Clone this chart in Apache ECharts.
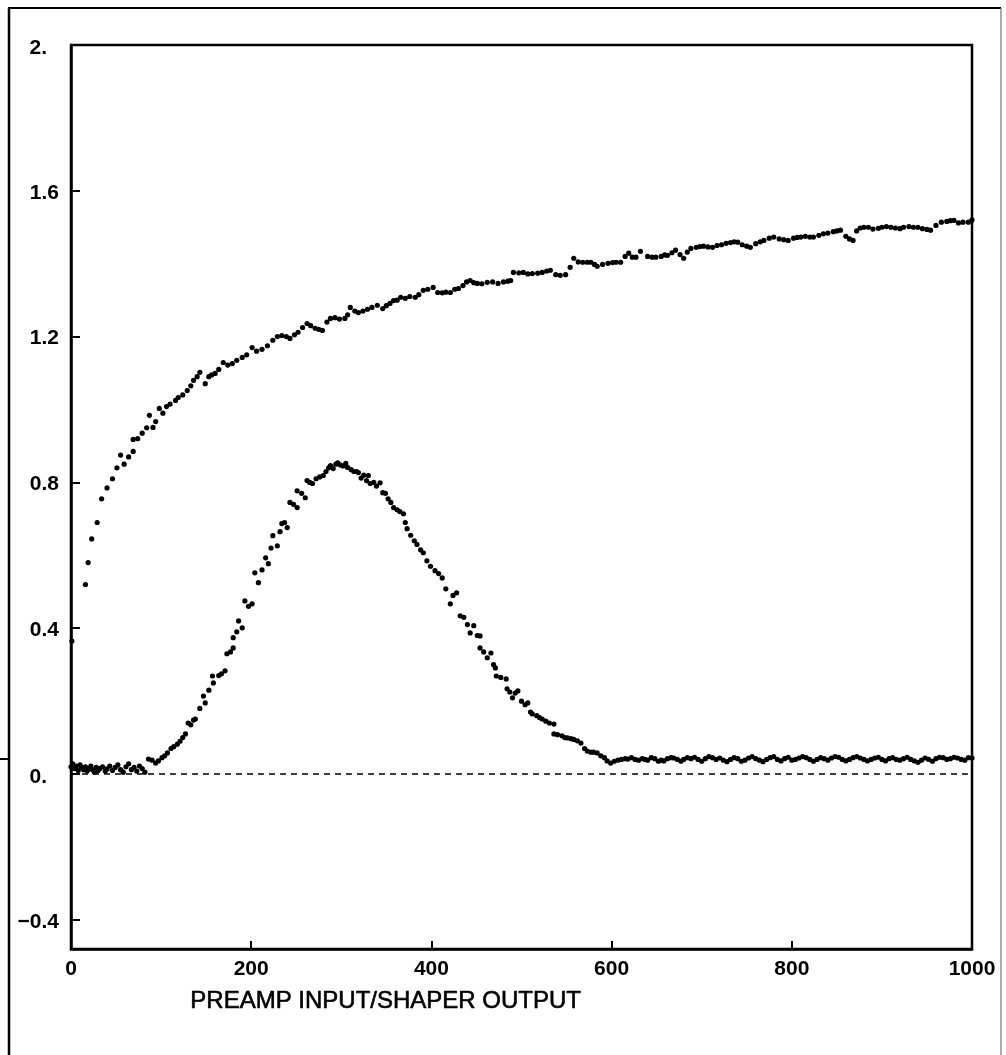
<!DOCTYPE html>
<html>
<head>
<meta charset="utf-8">
<script src="https://cdn.jsdelivr.net/npm/echarts@6/dist/echarts.min.js"></script>
<style>
html,body{margin:0;padding:0;background:#fff;}
#chart{width:1006px;height:1055px;}
</style>
</head>
<body>
<div id="chart"></div>
<script>
// ---- data ----
var xTickLabels = ['0', '200', '400', '600', '800', '1000'];
var yTickValues = [-0.4, 0, 0.4, 0.8, 1.2, 1.6, 2.0];
var yTickLabels = ['\u22120.4', '0.', '0.4', '0.8', '1.2', '1.6', '2.'];
var axisTitle = 'PREAMP INPUT/SHAPER OUTPUT';

// preamp input (rising curve)
var preampPoints = [
[1,0.365],[16,0.52],[19,0.58],[23,0.645],[29,0.69],[34,0.755],[40,0.785],[46,0.81],[51,0.84],[55,0.875],[59,0.85],[64,0.87],[69,0.885],[69,0.918],[74,0.92],[79,0.935],[84,0.95],[87,0.984],[91,0.951],[94,0.967],[98,1.003],[102,0.99],[106,1.008],[110,1.015],[116,1.025],[119,1.033],[124,1.04],[129,1.052],[133,1.065],[136,1.08],[140,1.09],[143,1.102],[149,1.071],[153,1.09],[156,1.095],[160,1.099],[164,1.11],[169,1.129],[174,1.122],[179,1.126],[184,1.135],[190,1.143],[195,1.15],[201,1.17],[206,1.16],[212,1.165],[218,1.175],[224,1.19],[229,1.2],[234,1.203],[239,1.2],[243,1.195],[248,1.205],[252,1.212],[257,1.225],[262,1.236],[266,1.23],[271,1.223],[275,1.22],[279,1.217],[284,1.24],[288,1.25],[293,1.252],[298,1.248],[304,1.25],[307,1.26],[310,1.28],[315,1.27],[319,1.266],[324,1.27],[329,1.275],[334,1.28],[340,1.286],[346,1.277],[350,1.285],[354,1.291],[358,1.299],[362,1.3],[366,1.308],[371,1.305],[376,1.31],[382,1.308],[386,1.315],[391,1.327],[396,1.33],[402,1.335],[407,1.321],[412,1.32],[416,1.322],[421,1.321],[426,1.33],[430,1.332],[435,1.34],[439,1.35],[443,1.354],[447,1.348],[451,1.346],[456,1.345],[462,1.349],[468,1.35],[474,1.346],[480,1.35],[485,1.352],[488,1.354],[491,1.376],[497,1.375],[502,1.376],[507,1.372],[512,1.373],[518,1.374],[523,1.376],[528,1.38],[532,1.382],[538,1.37],[543,1.368],[549,1.37],[554,1.39],[558,1.415],[563,1.405],[568,1.404],[573,1.404],[577,1.404],[581,1.398],[584,1.393],[590,1.398],[596,1.401],[601,1.403],[605,1.404],[610,1.404],[615,1.42],[619,1.429],[623,1.418],[627,1.418],[632,1.434],[640,1.42],[645,1.418],[649,1.418],[655,1.42],[659,1.424],[662,1.423],[667,1.43],[671,1.437],[676,1.425],[680,1.415],[684,1.432],[688,1.442],[694,1.445],[698,1.447],[702,1.448],[707,1.446],[712,1.445],[717,1.45],[722,1.452],[727,1.456],[732,1.458],[736,1.46],[740,1.459],[745,1.452],[750,1.448],[754,1.445],[760,1.455],[765,1.46],[769,1.464],[775,1.47],[780,1.473],[786,1.468],[791,1.466],[796,1.464],[802,1.47],[806,1.472],[810,1.473],[815,1.475],[820,1.473],[824,1.473],[830,1.478],[835,1.482],[840,1.484],[846,1.488],[850,1.49],[854,1.492],[860,1.475],[864,1.468],[868,1.464],[872,1.49],[876,1.498],[880,1.5],[885,1.5],[890,1.495],[896,1.497],[900,1.5],[905,1.502],[910,1.5],[915,1.498],[920,1.496],[924,1.5],[930,1.502],[935,1.5],[940,1.5],[945,1.496],[950,1.494],[954,1.492],[960,1.505],[966,1.514],[972,1.516],[976,1.518],[980,1.519],[985,1.512],[990,1.514],[996,1.514],[1000,1.52]
];

// shaper output (bell curve)
var shaperPoints = [
[0,0.02],[2,0.028],[4,0.015],[6,0.022],[8,0.01],[10,0.025],[12,0.018],[14,0.012],[16,0.02],[18,0.008],[20,0.015],[22,0.022],[24,0.012],[26,0.005],[28,0.018],[30,0.01],[32,0.015],[35,0.02],[38,0.008],[40,0.014],[43,0.022],[46,0.01],[49,0.018],[52,0.025],[55,0.012],[58,0.005],[61,0.02],[64,0.028],[67,0.012],[70,0.018],[73,0.008],[76,0.022],[79,0.015],[82,0.005],[86,0.041],[90,0.038],[94,0.03],[97,0.036],[101,0.045],[104,0.05],[107,0.058],[111,0.07],[114,0.075],[118,0.082],[121,0.09],[124,0.1],[127,0.11],[130,0.14],[133,0.135],[136,0.148],[138,0.151],[143,0.18],[147,0.214],[149,0.195],[153,0.23],[157,0.269],[158,0.25],[164,0.27],[167,0.275],[171,0.283],[173,0.33],[177,0.335],[180,0.346],[180,0.374],[184,0.39],[186,0.42],[190,0.401],[193,0.475],[197,0.46],[201,0.467],[204,0.552],[208,0.525],[212,0.56],[216,0.593],[219,0.577],[222,0.62],[224,0.654],[229,0.626],[232,0.665],[234,0.687],[237,0.69],[240,0.676],[243,0.745],[247,0.74],[251,0.731],[251,0.777],[256,0.77],[260,0.758],[262,0.805],[265,0.8],[268,0.797],[272,0.81],[276,0.815],[280,0.819],[283,0.83],[286,0.84],[288,0.846],[291,0.838],[294,0.85],[296,0.854],[299,0.848],[302,0.845],[305,0.852],[307,0.841],[311,0.835],[314,0.83],[317,0.83],[319,0.827],[322,0.812],[325,0.82],[328,0.805],[330,0.819],[332,0.797],[336,0.8],[339,0.79],[343,0.799],[346,0.772],[349,0.77],[352,0.755],[355,0.745],[358,0.731],[362,0.725],[365,0.72],[369,0.714],[371,0.69],[373,0.673],[377,0.655],[381,0.64],[384,0.63],[388,0.615],[391,0.607],[395,0.585],[399,0.57],[404,0.558],[408,0.55],[412,0.538],[416,0.508],[421,0.467],[424,0.49],[428,0.497],[432,0.434],[436,0.43],[440,0.41],[443,0.387],[447,0.407],[451,0.38],[454,0.379],[454,0.346],[458,0.335],[462,0.319],[466,0.332],[469,0.3],[471,0.291],[472,0.269],[477,0.265],[483,0.261],[484,0.234],[487,0.225],[490,0.209],[493,0.222],[496,0.228],[500,0.2],[504,0.19],[507,0.195],[510,0.17],[512,0.165],[517,0.16],[520,0.155],[523,0.151],[527,0.145],[531,0.14],[536,0.137],[536,0.11],[540,0.108],[545,0.105],[548,0.1],[551,0.099],[555,0.097],[558,0.095],[562,0.091],[566,0.085],[570,0.07],[573,0.063],[577,0.06],[580,0.06],[584,0.058],[588,0.05],[592,0.045],[595,0.036],[599,0.03],[603,0.035],[607,0.038],[611,0.04],[615,0.042],[618,0.041],[622,0.045],[626,0.04],[630,0.038],[634,0.042],[637,0.04],[640,0.038],[644,0.045],[648,0.042],[652,0.035],[655,0.038],[658,0.036],[662,0.042],[666,0.045],[669,0.044],[673,0.04],[677,0.035],[680,0.04],[684,0.045],[688,0.042],[692,0.046],[696,0.04],[700,0.035],[704,0.042],[708,0.048],[712,0.045],[716,0.04],[720,0.044],[724,0.038],[728,0.034],[732,0.04],[736,0.045],[740,0.042],[744,0.035],[748,0.038],[752,0.044],[756,0.048],[760,0.042],[764,0.038],[768,0.034],[772,0.04],[776,0.045],[780,0.048],[784,0.04],[788,0.036],[792,0.042],[796,0.046],[800,0.038],[804,0.04],[808,0.044],[812,0.048],[816,0.045],[820,0.04],[824,0.035],[828,0.04],[832,0.045],[836,0.042],[840,0.038],[844,0.044],[848,0.048],[852,0.046],[856,0.04],[860,0.036],[864,0.04],[868,0.045],[872,0.048],[876,0.044],[880,0.04],[884,0.036],[888,0.04],[892,0.044],[896,0.046],[900,0.04],[904,0.036],[908,0.042],[912,0.045],[916,0.04],[920,0.038],[924,0.042],[928,0.046],[932,0.04],[936,0.036],[940,0.032],[944,0.038],[948,0.044],[952,0.04],[956,0.035],[960,0.042],[964,0.046],[968,0.045],[972,0.04],[976,0.042],[980,0.046],[984,0.044],[988,0.04],[992,0.038],[996,0.045],[1000,0.044]
];

var chart = echarts.init(document.getElementById('chart'), null, {renderer: 'canvas'});
var FONT = '"Liberation Sans", Arial, Helvetica, sans-serif';

chart.setOption({
  animation: false,
  backgroundColor: '#fff',
  grid: {
    left: 71, right: 34, top: 45, bottom: 106,
    show: true, borderColor: '#000', borderWidth: 2.5, backgroundColor: 'transparent'
  },
  xAxis: {
    type: 'value', min: 0, max: 1000, interval: 200,
    axisLine: {show: true, onZero: false, lineStyle: {color: '#000', width: 2.5}},
    axisTick: {show: true, inside: true, length: 8, lineStyle: {color: '#000', width: 2}},
    axisLabel: {
      show: true, margin: 10, color: '#000', fontFamily: FONT, fontWeight: 'bold', fontSize: 21,
      formatter: function (v) { return xTickLabels[Math.round(v / 200)]; }
    },
    splitLine: {show: false}
  },
  yAxis: {
    type: 'value', min: -0.48, max: 2.0,
    axisLine: {show: true, onZero: false, lineStyle: {color: '#000', width: 2.5}},
    axisTick: {show: true, inside: true, length: 9, customValues: yTickValues, lineStyle: {color: '#000', width: 2}},
    axisLabel: {
      show: true, margin: 12, color: '#000', fontFamily: FONT, fontWeight: 'bold', fontSize: 21,
      customValues: yTickValues,
      formatter: function (v) {
        var best = 0, d = 1e9;
        for (var i = 0; i < yTickValues.length; i++) {
          var dd = Math.abs(yTickValues[i] - v);
          if (dd < d) { d = dd; best = i; }
        }
        var t = yTickLabels[best];
        if (t.length === 2) { return '{s|' + t + '}'; }
        return '{n|' + t + '}';
      },
      rich: {
        s: {fontFamily: FONT, fontWeight: 'bold', fontSize: 21, color: '#000', padding: [6, 12, 0, 0]},
        n: {fontFamily: FONT, fontWeight: 'bold', fontSize: 21, color: '#000', padding: [4, 0, 0, 0]}
      }
    },
    splitLine: {show: false}
  },
  series: [
    {
      name: 'preamp', type: 'scatter', data: preampPoints,
      symbol: 'circle', symbolSize: 5.2,
      itemStyle: {color: '#000', opacity: 1}, silent: true
    },
    {
      name: 'shaper', type: 'scatter', data: shaperPoints,
      symbol: 'circle', symbolSize: 5.2,
      itemStyle: {color: '#000', opacity: 1}, silent: true,
      markLine: {
        silent: true, symbol: 'none', animation: false,
        label: {show: false},
        lineStyle: {color: '#000', width: 1.5, type: [6, 5], opacity: 1},
        data: [{yAxis: 0}]
      }
    }
  ],
  graphic: [
    {type: 'line', shape: {x1: 9, y1: 8, x2: 9, y2: 1055}, style: {stroke: '#000', lineWidth: 2.5}},
    {type: 'line', shape: {x1: 8, y1: 8, x2: 1001, y2: 8}, style: {stroke: '#000', lineWidth: 2}},
    {type: 'line', shape: {x1: 1001, y1: 8, x2: 1001, y2: 1055}, style: {stroke: '#777', lineWidth: 1.2}},
    {type: 'line', shape: {x1: 0, y1: 759, x2: 9, y2: 759}, style: {stroke: '#000', lineWidth: 2}},
    {
      type: 'text', left: 190, top: 989,
      style: {text: axisTitle, fill: '#000', stroke: '#000', lineWidth: 0.6, font: '24px ' + FONT}
    }
  ]
});
</script>
</body>
</html>
